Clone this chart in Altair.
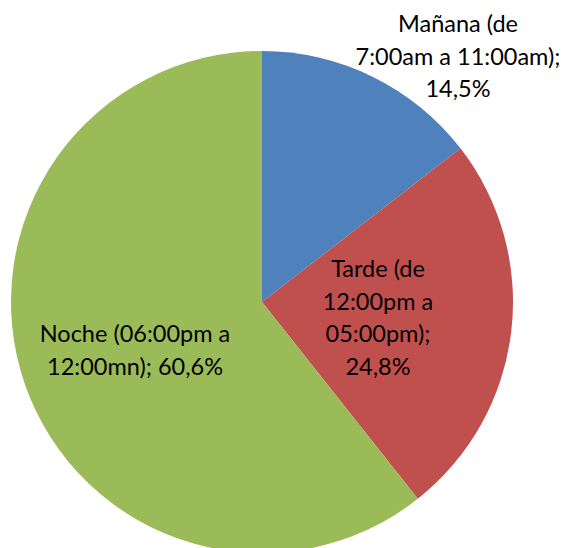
import altair as alt
import pandas as pd

categories = ["Mañana (de 7:00am a 11:00am)", "Tarde (de 12:00pm a 05:00pm)", "Noche (06:00pm a 12:00mn)"]
values = [14.5, 24.8, 60.6]
colors = ["#4F81BD", "#C0504D", "#9BBB59"]
labels = [
    "Mañana (de\n7:00am a 11:00am);\n14,5%",
    "Tarde (de\n12:00pm a\n05:00pm);\n24,8%",
    "Noche (06:00pm a\n12:00mn); 60,6%",
]

# layout (label anchor points in chart pixels: center x, first line y)
label_pos = [(450, 17), (370, 262), (127, 327)]

df = pd.DataFrame({"cat": categories, "val": values, "ord": list(range(len(values)))})

pie = alt.Chart(df).mark_arc(radius=251, stroke=None).encode(
    theta=alt.Theta("val:Q", stack=True),
    order=alt.Order("ord:Q"),
    color=alt.Color("cat:N", scale=alt.Scale(domain=categories, range=colors), legend=None),
    x=alt.value(254),
    y=alt.value(294),
)

layers = [pie]
for txt, (lx, ly) in zip(labels, label_pos):
    layers.append(
        alt.Chart(pd.DataFrame({"t": [txt]})).mark_text(
            font="Lato", fontSize=23.5, lineBreak="\n", lineHeight=32.5,
            align="center", baseline="middle", color="#000000"
        ).encode(text="t:N", x=alt.value(lx), y=alt.value(ly))
    )

chart = alt.layer(*layers).properties(
    width=556, height=540, padding=0, autosize=alt.AutoSizeParams(type="none")
).configure_view(stroke=None)

chart.save("out.html", embed_options={"renderer": "svg", "actions": False})
